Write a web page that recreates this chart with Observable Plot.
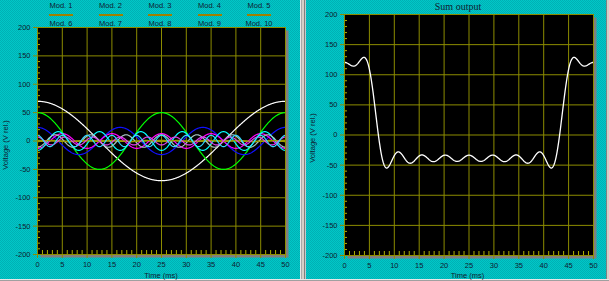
<!DOCTYPE html>
<html><head><meta charset="utf-8">
<script src="https://cdn.jsdelivr.net/npm/d3@7"></script>
<script src="https://cdn.jsdelivr.net/npm/@observablehq/plot@0.6"></script>
<style>
html,body{margin:0;padding:0}
body{width:609px;height:281px;overflow:hidden;position:relative;
  background:#00c0c0 repeating-conic-gradient(#00c8c8 0 25%, #00b0b4 0 50%) 0 0/2px 2px;
  font-family:"Liberation Sans",Arial,sans-serif;color:#102030}
.abs{position:absolute}
.lbl{position:absolute;font-size:7.5px;line-height:1;white-space:nowrap;transform:translate(-50%,-50%)}
.rot{transform:translate(-50%,-50%) rotate(-90deg)}
.sw{position:absolute;height:2px;width:24px;background:#a08000}
svg{display:block}
</style></head><body>
<div id="left" class="abs" style="left:0;top:0"></div>
<div id="right" class="abs" style="left:303px;top:0"></div>
<div class="abs" style="left:300px;top:0;width:6px;height:281px;background:linear-gradient(to right,#e8e8e8 0 1px,#a8a8a8 1px 2px,#d4d0c8 2px 4px,#808080 4px 5px,#c8c8c8 5px 6px)"></div>
<div class="abs" style="left:606px;top:0;width:3px;height:281px;background:linear-gradient(to right,#808080 0 1px,#d4d0c8 1px 3px)"></div>
<div class="abs" style="left:0;top:279px;width:609px;height:2px;background:linear-gradient(to bottom,#e8e8e8 0 1px,#a0a0a0 1px 2px)"></div>
<div id="texts"></div>
<script>
// ---- data ----
const modNames = ["Mod. 1","Mod. 2","Mod. 3","Mod. 4","Mod. 5","Mod. 6","Mod. 7","Mod. 8","Mod. 9","Mod. 10"];
const harmonicNumbers = [1,2,3,4,5,6,7,8,9,10];
// cosine amplitude of each mode (V rel.) at t = 0
const modAmplitudes = [70, 50, 24, 1, -13, -16.5, -11, -1, 7, 10];
const modColors = ["#ffffff","#00ff00","#1010ff","#9a9a00","#ff00ff","#00ffff","#a8c4c4","#9a9a00","#e040f0","#30d8ff"];
const periodMs = 50;
const xTicks = [0,5,10,15,20,25,30,35,40,45,50];
const yTicks = [-200,-150,-100,-50,0,50,100,150,200];
const xMinorTicks = d3.range(1,50).filter(d => d % 5 !== 0);
const yMinorTicks = d3.range(-190,200,10).filter(d => d % 50 !== 0);
const timeSamples = d3.range(0, 50.0001, 0.1);

// ---- build rows ----
const modRows = harmonicNumbers.map((n, i) => timeSamples.map(t => ({
  mod: modNames[i], t, v: modAmplitudes[i] * Math.cos(2 * Math.PI * n * t / periodMs)
})));
const sumRows = timeSamples.map((t, k) => ({t, v: d3.sum(modRows, r => r[k].v)}));

const olive = "#8c8c00", minorCol = "#b0b000", textCol = "#102030";

function panel({width, marginLeft, marginRight, marginTop, marginBottom, lines}) {
  const height = 281;
  const innerW = width - marginLeft - marginRight;
  const innerH = height - marginTop - marginBottom;
  return Plot.plot({
    width, height, marginLeft, marginRight, marginTop, marginBottom,
    x: {domain: [0, 50]},
    y: {domain: [-200, 200]},
    style: {background: "transparent", fontFamily: "Liberation Sans, Arial, sans-serif", fontSize: "7.5px", color: textCol},
    marks: [
      Plot.frame({fill: "#808080", insetLeft: 3, insetTop: 3, insetRight: -3, insetBottom: -3}),
      Plot.frame({fill: "black"}),
      Plot.ruleX(xTicks, {stroke: olive}),
      Plot.ruleY(yTicks, {stroke: olive}),
      Plot.tickX(xMinorTicks, {stroke: minorCol, insetTop: innerH - 4}),
      Plot.tickY(yMinorTicks, {stroke: minorCol, insetRight: innerW - 3}),
      ...lines,
      Plot.axisX({ticks: xTicks, tickSize: 4, tickPadding: 3, stroke: olive, fill: textCol, tickFormat: d => String(d), label: null}),
      Plot.axisY({ticks: yTicks, tickSize: 4, tickPadding: 3, stroke: olive, fill: textCol, tickFormat: d => String(d), label: null}),
      Plot.frame({stroke: olive})
    ]
  });
}

document.getElementById("left").append(panel({
  width: 300, marginLeft: 37, marginRight: 15, marginTop: 27, marginBottom: 27,
  lines: modRows.map((rows, i) => Plot.line(rows, {x: "t", y: "v", stroke: modColors[i], strokeWidth: 1.2}))
}));
document.getElementById("right").append(panel({
  width: 303, marginLeft: 41, marginRight: 13, marginTop: 14, marginBottom: 26,
  lines: [Plot.line(sumRows, {x: "t", y: "v", stroke: "white", strokeWidth: 1.3})]
}));

// ---- texts ----
const T = document.getElementById("texts");
function addText(txt, x, y, cls = "", extra = "") {
  const d = document.createElement("div");
  d.className = "lbl " + cls;
  d.style.cssText += `left:${x}px;top:${y}px;${extra}`;
  d.textContent = txt;
  T.append(d);
}
const legendX = [61, 110.5, 160, 209.5, 259];
modNames.forEach((name, i) => {
  const col = i % 5, row = Math.floor(i / 5);
  addText(name, legendX[col], row ? 23.7 : 6.2);
  if (!row) {
    const s = document.createElement("div");
    s.className = "sw";
    s.style.left = (legendX[col] - 12) + "px";
    s.style.top = "14px";
    T.append(s);
  }
});
addText("Voltage (V rel.)", 6, 145, "rot");
addText("Voltage (V rel.)", 313, 138, "rot");
addText("Time (ms)", 161, 275.5);
addText("Time (ms)", 467.5, 275.5);
addText("Sum output", 458, 7, "", "font-family:'Liberation Serif',serif;font-size:10px");
</script>
</body></html>
